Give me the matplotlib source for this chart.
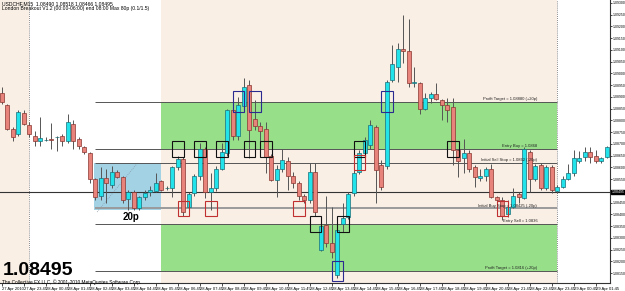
import matplotlib
matplotlib.use('Agg')
import matplotlib.pyplot as plt
from matplotlib.patches import Rectangle

# USDCHF M15, bar 0 = 27 Apr 22:45
opens = [1.08915, 1.08865, 1.08765, 1.08740, 1.08830, 1.08780, 1.08735, 1.08710, 1.08715, 1.08720,
         1.08730, 1.08735, 1.08710, 1.08785, 1.08720, 1.08685, 1.08660, 1.08550, 1.08480, 1.08555,
         1.08525, 1.08580, 1.08560, 1.08465, 1.08495, 1.08425, 1.08475, 1.08495, 1.08500, 1.08540,
         1.08510, 1.08510, 1.08600, 1.08635, 1.08430, 1.08490, 1.08565, 1.08680, 1.08495, 1.08510,
         1.08595, 1.08660, 1.08845, 1.08735, 1.08860, 1.08950, 1.08805, 1.08775, 1.08765, 1.08650,
         1.08545, 1.08595, 1.08625, 1.08565, 1.08535, 1.08480, 1.08460, 1.08580, 1.08250, 1.08355,
         1.08280, 1.08140, 1.08360, 1.08390, 1.08490, 1.08580, 1.08660, 1.08695, 1.08770, 1.08610,
         1.08605, 1.08970, 1.09025, 1.09105, 1.09095, 1.08960, 1.08960, 1.08850, 1.08895, 1.08910,
         1.08885, 1.08865, 1.08855, 1.08675, 1.08640, 1.08660, 1.08600, 1.08555, 1.08565, 1.08595,
         1.08475, 1.08460, 1.08400, 1.08430, 1.08485, 1.08470, 1.08665, 1.08550, 1.08610, 1.08510,
         1.08600, 1.08500, 1.08515, 1.08550, 1.08575, 1.08625, 1.08645, 1.08665, 1.08650, 1.08625,
         1.08645]
highs = [1.08940, 1.08870, 1.08770, 1.08845, 1.08845, 1.08795, 1.08755, 1.08815, 1.08730, 1.08790,
         1.08735, 1.08740, 1.08825, 1.08800, 1.08730, 1.08690, 1.08665, 1.08555, 1.08600, 1.08595,
         1.08605, 1.08590, 1.08565, 1.08505, 1.08505, 1.08480, 1.08505, 1.08520, 1.08575, 1.08545,
         1.08520, 1.08605, 1.08650, 1.08645, 1.08495, 1.08570, 1.08705, 1.08685, 1.08575, 1.08605,
         1.08705, 1.08850, 1.08855, 1.08900, 1.08980, 1.08970, 1.08885, 1.08795, 1.08795, 1.08655,
         1.08610, 1.08680, 1.08645, 1.08580, 1.08540, 1.08485, 1.08620, 1.08620, 1.08365, 1.08480,
         1.08430, 1.08340, 1.08450, 1.08495, 1.08590, 1.08675, 1.08730, 1.08800, 1.08780, 1.08630,
         1.08970, 1.09120, 1.09130, 1.09250, 1.09230, 1.09025, 1.08965, 1.08915, 1.08920, 1.08960,
         1.08890, 1.08895, 1.08895, 1.08680, 1.08720, 1.08675, 1.08610, 1.08595, 1.08600, 1.08615,
         1.08480, 1.08475, 1.08460, 1.08510, 1.08495, 1.08685, 1.08675, 1.08615, 1.08620, 1.08610,
         1.08610, 1.08525, 1.08565, 1.08615, 1.08675, 1.08670, 1.08685, 1.08685, 1.08675, 1.08645,
         1.08690]
lows = [1.08870, 1.08760, 1.08710, 1.08735, 1.08780, 1.08730, 1.08690, 1.08690, 1.08710, 1.08680,
        1.08670, 1.08690, 1.08705, 1.08680, 1.08680, 1.08655, 1.08535, 1.08460, 1.08460, 1.08450,
        1.08510, 1.08555, 1.08450, 1.08420, 1.08420, 1.08420, 1.08460, 1.08480, 1.08495, 1.08500,
        1.08505, 1.08475, 1.08590, 1.08395, 1.08425, 1.08480, 1.08545, 1.08470, 1.08420, 1.08500,
        1.08590, 1.08650, 1.08715, 1.08715, 1.08855, 1.08640, 1.08760, 1.08685, 1.08575, 1.08540,
        1.08475, 1.08580, 1.08505, 1.08510, 1.08460, 1.08450, 1.08450, 1.08395, 1.08245, 1.08260,
        1.08215, 1.08130, 1.08325, 1.08380, 1.08480, 1.08570, 1.08650, 1.08680, 1.08450, 1.08505,
        1.08595, 1.08965, 1.08965, 1.09045, 1.08940, 1.08940, 1.08825, 1.08845, 1.08875, 1.08885,
        1.08800, 1.08795, 1.08610, 1.08560, 1.08575, 1.08580, 1.08515, 1.08540, 1.08540, 1.08470,
        1.08450, 1.08375, 1.08390, 1.08425, 1.08450, 1.08465, 1.08495, 1.08540, 1.08505, 1.08505,
        1.08490, 1.08490, 1.08510, 1.08545, 1.08565, 1.08620, 1.08625, 1.08620, 1.08620, 1.08620,
        1.08640]
closes = [1.08880, 1.08765, 1.08730, 1.08835, 1.08785, 1.08740, 1.08710, 1.08725, 1.08715, 1.08715,
          1.08730, 1.08710, 1.08795, 1.08710, 1.08690, 1.08665, 1.08550, 1.08475, 1.08555, 1.08535,
          1.08580, 1.08560, 1.08460, 1.08495, 1.08425, 1.08475, 1.08490, 1.08505, 1.08535, 1.08505,
          1.08510, 1.08600, 1.08635, 1.08410, 1.08485, 1.08565, 1.08680, 1.08495, 1.08510, 1.08595,
          1.08665, 1.08845, 1.08735, 1.08865, 1.08940, 1.08760, 1.08775, 1.08755, 1.08645, 1.08545,
          1.08595, 1.08630, 1.08565, 1.08535, 1.08480, 1.08460, 1.08580, 1.08410, 1.08350, 1.08280,
          1.08240, 1.08335, 1.08385, 1.08485, 1.08575, 1.08660, 1.08715, 1.08780, 1.08590, 1.08515,
          1.08965, 1.09040, 1.09105, 1.09095, 1.08960, 1.08960, 1.08850, 1.08895, 1.08910, 1.08890,
          1.08865, 1.08845, 1.08675, 1.08625, 1.08660, 1.08595, 1.08560, 1.08565, 1.08595, 1.08475,
          1.08460, 1.08395, 1.08430, 1.08480, 1.08475, 1.08680, 1.08550, 1.08605, 1.08510, 1.08600,
          1.08505, 1.08515, 1.08550, 1.08575, 1.08640, 1.08640, 1.08665, 1.08645, 1.08625, 1.08640,
          1.08685]

# breakout levels
bid = 1.08495
range_high = 1.08620
range_low = 1.08420
range_bars = (17, 29)
entry_buy = 1.08680
entry_sell = 1.08360
target_buy = 1.08880
target_sell = 1.08160
sell_stop = 1.08620
buy_stop = 1.08425

level_texts = ["Profit Target = 1.08880 (+20p)", "Entry Buy = 1.0868", "Initial Sell Stop = 1.0862 (-20p)",
               "Initial Buy Stop = 1.08425 (-20p)", "Entry Sell = 1.0836", "Profit Target = 1.0816 (+20p)"]
level_values = [target_buy, entry_buy, sell_stop, buy_stop, entry_sell, target_sell]

# marker boxes: (bar, level)
black_boxes = [(32, entry_buy), (36, entry_buy), (40, entry_buy), (45, entry_buy), (48, entry_buy),
               (65, entry_buy), (82, entry_buy), (57, entry_sell), (62, entry_sell)]
navy_boxes = [(43, target_buy), (46, target_buy), (70, target_buy), (61, target_sell)]
red_boxes = [(33, buy_stop), (38, buy_stop), (54, buy_stop), (91, buy_stop), (65, sell_stop)]

xtick_bars = [0, 4, 8, 12, 16, 20, 24, 28, 32, 36, 40, 44, 48, 52, 56, 60, 64, 68, 72, 76,
              80, 84, 88, 92, 96, 100, 104, 108]
xtick_labels = ["27 Apr 2010", "27 Apr 23:45", "28 Apr 00:45", "28 Apr 01:45", "28 Apr 02:45",
                "28 Apr 03:45", "28 Apr 04:45", "28 Apr 05:45", "28 Apr 06:45", "28 Apr 07:45",
                "28 Apr 08:45", "28 Apr 09:45", "28 Apr 10:45", "28 Apr 11:45", "28 Apr 12:45",
                "28 Apr 13:45", "28 Apr 14:45", "28 Apr 15:45", "28 Apr 16:45", "28 Apr 17:45",
                "28 Apr 18:45", "28 Apr 19:45", "28 Apr 20:45", "28 Apr 21:45", "28 Apr 22:45",
                "28 Apr 23:45", "29 Apr 00:45", "29 Apr 01:45"]
ytick_values = [1.0930, 1.0925, 1.0920, 1.0915, 1.0910, 1.0905, 1.0900, 1.0895, 1.0890, 1.0885,
                1.0880, 1.0875, 1.0870, 1.0865, 1.0860, 1.0855, 1.0845, 1.0840, 1.0835,
                1.0830, 1.0825, 1.0820, 1.0815]

header1 = "USDCHF,M15  1.08490 1.08518 1.08466 1.08495"
header2 = "London Breakout V1.2 (00:00-06:00) end 08:00 Max 80p (0.1/1.5)"
copyright_text = "The Collective FX LLC, \u00a9 2001-2010 MetaQuotes Software Corp."

plt.rcParams['font.family'] = ['Liberation Sans', 'DejaVu Sans']

beige = '#FAEFE5'
green = '#98DF8A'
lightblue = '#A3D2E5'
up_fill, up_edge = '#22E3EA', '#1A6E78'
dn_fill, dn_edge = '#E8837C', '#8A3530'
wick_col = '#555555'

W, H = 625, 291
fig = plt.figure(figsize=(W / 100, H / 100), dpi=100)
# plot area: x 0..610 px, y 0..283 px from the top
ax = fig.add_axes([0, 8 / H, 610 / W, 283 / H])
ax.set_xlim(-0.36, 110.55)
ax.set_ylim(1.08495 - 91 / 23500, 1.08495 + 192 / 23500)

# session shading
ax.axvspan(-0.36, 4.9, color=beige, lw=0, zorder=0)
ax.axvspan(28.9, 100.9, color=beige, lw=0, zorder=0)
ax.axvline(4.9, color='#666666', ls=(0, (1, 1.5)), lw=0.6, zorder=1)
ax.axvline(100.9, color='#666666', ls=(0, (1, 1.5)), lw=0.6, zorder=1)

# target zones
ax.add_patch(Rectangle((28.9, entry_buy), 72, target_buy - entry_buy, color=green, lw=0, zorder=1))
ax.add_patch(Rectangle((28.9, target_sell), 72, entry_sell - target_sell, color=green, lw=0, zorder=1))

# asian range box
ax.add_patch(Rectangle((range_bars[0] - 0.3, range_low), range_bars[1] - range_bars[0] + 0.3,
                       range_high - range_low, color=lightblue, lw=0, zorder=1))
ax.plot([17.3, 24.7], [range_low - 0.0001, range_high], color='#8899AA', ls=(0, (1, 1.5)), lw=0.6, zorder=2)
ax.text(23.5, range_low - 0.0001, '20p', fontsize=7, weight='bold', ha='center', va='top', zorder=5)

# level lines
for lv in level_values:
    if lv == buy_stop:
        ax.hlines(lv, 16.9, 101, colors='#9A9A9A', lw=1.4, zorder=2)
    else:
        ax.hlines(lv, 16.9, 101, colors='#555555', lw=0.7, zorder=2)
ax.axhline(bid, color='#333333', lw=0.8, zorder=2)

for txt, lv in zip(level_texts, level_values):
    ax.text(97.3, lv + 0.00003, txt, fontsize=3.0, ha='right', va='bottom', color='#222222', zorder=6)

# candles
for i in range(len(opens)):
    o, h, l, c = opens[i], highs[i], lows[i], closes[i]
    up = c >= o
    ax.vlines(i, l, h, colors=wick_col, lw=0.7, zorder=3)
    body = max(abs(c - o), 0.00001)
    ax.bar(i, body, bottom=min(o, c), width=0.72,
           color=up_fill if up else dn_fill, edgecolor=up_edge if up else dn_edge,
           lw=0.5, zorder=4)

# signal boxes
for boxes, col, half in [(black_boxes, '#111111', 0.00034), (navy_boxes, '#2A2A90', 0.00043),
                         (red_boxes, '#C03030', 0.00032)]:
    for b, lv in boxes:
        ax.add_patch(Rectangle((b - 1.05, lv - half), 2.1, 2 * half, fill=False,
                               edgecolor=col, lw=0.8, zorder=5))

# axes styling
for s in ['top', 'left']:
    ax.spines[s].set_visible(False)
ax.spines['right'].set_color('#333333')
ax.spines['bottom'].set_color('#333333')
ax.spines['right'].set_linewidth(0.8)
ax.spines['bottom'].set_linewidth(0.8)
ax.yaxis.tick_right()
ax.set_yticks(ytick_values, [f'{v:.5f}' for v in ytick_values])
ax.tick_params(axis='y', labelsize=2.5, length=1.5, width=0.5, pad=0.5)
ax.set_xticks(xtick_bars, xtick_labels)
ax.tick_params(axis='x', labelsize=3.0, length=2, width=0.5, pad=0.8)
for lab in ax.get_xticklabels():
    lab.set_ha('left')

ax.text(1.003, bid, f'{bid:.5f}', transform=ax.get_yaxis_transform(), fontsize=2.5,
        color='white', va='center', ha='left',
        bbox=dict(boxstyle='square,pad=0.1', fc='black', ec='black'))

fig.text(2 / W, 1 - 1 / H, header1, fontsize=3.6, va='top')
fig.text(2 / W, 1 - 6 / H, header2, fontsize=3.6, va='top')
fig.text(3 / W, 1 - 275 / H, f'{bid:.5f}', fontsize=14, weight='bold', va='baseline')
fig.text(2 / W, 1 - 279 / H, copyright_text, fontsize=3.4, va='top')

fig.savefig('out.png', dpi=100)
